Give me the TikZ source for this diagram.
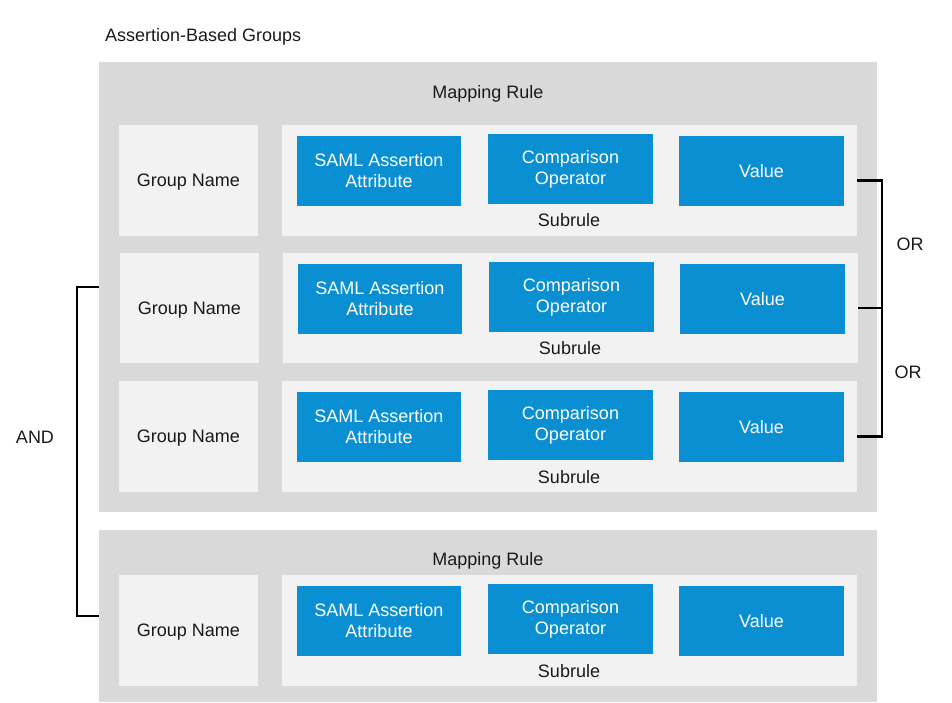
\documentclass[tikz,border=0pt]{standalone}
\usepackage{fontspec}
\setmainfont{Liberation Sans}
\definecolor{outerc}{HTML}{D9D9D9}
\definecolor{innerc}{HTML}{F2F2F2}
\definecolor{bluec}{HTML}{0A8FD2}
\definecolor{txtc}{HTML}{1A1A1A}
\newcommand\bx[7]{\node[#2, minimum width={(#5-#3)*1pt}, minimum height={(#6-#4)*1pt}] (#1) at ({(#3+#5)/2},{(#4+#6)/2}) {#7};}
\begin{document}
\begin{tikzpicture}[x=1pt,y=-1pt,
  every node/.style={inner sep=0pt, outer sep=0pt, font=\fontsize{18}{21}\selectfont, text=txtc},
  outerbox/.style={fill=outerc, draw=none},
  innerbox/.style={fill=innerc, draw=none, align=center},
  namebox/.style={innerbox, text depth=0pt},
  bluebox/.style={fill=bluec, draw=none, align=center, text=white},
  lbl/.style={anchor=center},
  bracket/.style={draw=black, line width=2.8pt}]
\useasboundingbox (0,0) rectangle (952,703);
\node[anchor=west] (title) at (105,37) {Assertion-Based Groups};
% Mapping rule 1
\bx{mr1}{outerbox}{99}{62}{877}{512}{}
\node[lbl] (mr1t) at (488,94) {Mapping Rule};
% row 1
\bx{g1}{namebox}{119}{125}{258}{236}{Group Name}
\bx{s1}{innerbox}{282}{125}{857}{236}{}
\bx{a1}{bluebox}{297}{136}{461}{206}{SAML Assertion\\Attribute}
\bx{c1}{bluebox}{488}{134}{653}{204}{Comparison\\Operator}
\bx{v1}{bluebox}{679}{136}{844}{206}{Value}
\node[lbl] (s1t) at (569,220) {Subrule};
% row 2
\bx{g2}{namebox}{120}{253}{259}{363}{Group Name}
\bx{s2}{innerbox}{283}{253}{858}{363}{}
\bx{a2}{bluebox}{298}{264}{462}{334}{SAML Assertion\\Attribute}
\bx{c2}{bluebox}{489}{262}{654}{332}{Comparison\\Operator}
\bx{v2}{bluebox}{680}{264}{845}{334}{Value}
\node[lbl] (s2t) at (570,348) {Subrule};
% row 3
\bx{g3}{namebox}{119}{381}{258}{492}{Group Name}
\bx{s3}{innerbox}{282}{381}{857}{492}{}
\bx{a3}{bluebox}{297}{392}{461}{462}{SAML Assertion\\Attribute}
\bx{c3}{bluebox}{488}{390}{653}{460}{Comparison\\Operator}
\bx{v3}{bluebox}{679}{392}{844}{462}{Value}
\node[lbl] (s3t) at (569,477) {Subrule};
% Mapping rule 2
\bx{mr2}{outerbox}{99}{530}{877}{702}{}
\node[lbl] (mr2t) at (488,561) {Mapping Rule};
\bx{g4}{namebox}{119}{575}{258}{686}{Group Name}
\bx{s4}{innerbox}{282}{575}{857}{686}{}
\bx{a4}{bluebox}{297}{586}{461}{656}{SAML Assertion\\Attribute}
\bx{c4}{bluebox}{488}{584}{653}{654}{Comparison\\Operator}
\bx{v4}{bluebox}{679}{586}{844}{656}{Value}
\node[lbl] (s4t) at (569,671) {Subrule};
% OR bracket
\coordinate (orx) at (882,0);
\draw[bracket] (s1.east) -| (orx |- s3.east) -- (s3.east);
\draw[bracket] (s2.east) -- (orx |- s2.east);
\node[lbl] (or1) at (910,244) {OR};
\node[lbl] (or2) at (908,372) {OR};
% AND bracket
\coordinate (andx) at (77,0);
\draw[bracket] (mr1.west) -- (andx |- mr1.west) -- (andx |- mr2.west) -- (mr2.west);
\node[lbl] (and) at (35,437) {AND};
\end{tikzpicture}
\end{document}
